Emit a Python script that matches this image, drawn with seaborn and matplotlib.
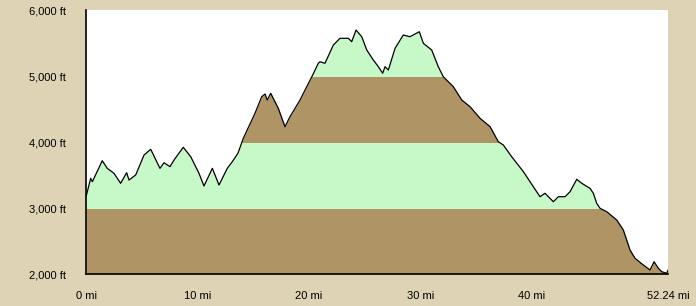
import numpy as np
import pandas as pd
import matplotlib
matplotlib.use("Agg")
import matplotlib.pyplot as plt
from matplotlib.patches import Rectangle
import seaborn as sns

miles = [0.00, 0.42, 0.57, 1.46, 1.91, 2.51, 3.11, 3.65, 3.86, 4.46, 5.21, 5.81,
         6.64, 7.00, 7.54, 7.90, 8.73, 9.40, 10.14, 10.59, 11.34, 11.94, 12.68,
         13.13, 13.64, 14.12, 15.17, 15.77, 16.07, 16.27, 16.58, 17.26, 17.86,
         18.31, 19.21, 20.35, 20.85, 21.00, 21.45, 22.20, 22.80, 23.55, 23.85,
         24.24, 24.75, 25.20, 25.79, 26.24, 26.63, 26.84, 27.14, 27.74, 28.48,
         29.08, 29.92, 30.28, 31.03, 31.62, 32.07, 32.97, 33.73, 34.47, 35.37,
         36.27, 37.01, 37.46, 38.21, 39.26, 40.15, 40.75, 41.20, 41.95, 42.40,
         43.00, 43.45, 44.05, 44.50, 45.24, 45.54, 45.84, 46.14, 46.74, 47.64,
         48.23, 48.83, 49.28, 50.03, 50.63, 50.99, 51.38, 51.68, 52.13, 52.24]
elev_ft = [3167, 3450, 3398, 3716, 3601, 3526, 3374, 3535, 3424, 3500, 3803, 3889,
           3601, 3686, 3626, 3727, 3920, 3777, 3526, 3333, 3601, 3348, 3601,
           3701, 3829, 4056, 4435, 4686, 4727, 4636, 4738, 4510, 4232,
           4383, 4636, 5015, 5192, 5216, 5192, 5469, 5571, 5571, 5520,
           5697, 5595, 5394, 5242, 5141, 5041, 5141, 5091, 5419, 5621,
           5595, 5671, 5495, 5394, 5141, 4989, 4838, 4636, 4535, 4359,
           4232, 4004, 3954, 3777, 3550, 3323, 3171, 3223, 3095, 3171,
           3171, 3247, 3435, 3374, 3298, 3223, 3071, 2995, 2944, 2818,
           2667, 2364, 2238, 2136, 2061, 2186, 2086, 2035, 2011, 2061]

y_ticks = [2000, 3000, 4000, 5000, 6000]
y_labels = ["2,000 ft", "3,000 ft", "4,000 ft", "5,000 ft", "6,000 ft"]
x_ticks = [0, 10, 20, 30, 40, 52.24]
x_labels = ["0 mi", "10 mi", "20 mi", "30 mi", "40 mi", "52.24 mi"]
band_colors = ["#AF9466", "#C7F8C7", "#AF9466", "#C7F8C7"]

df = pd.DataFrame({"miles": miles, "elev": elev_ft})

sns.set_style("white")
plt.rcParams["font.family"] = ["Liberation Sans", "DejaVu Sans"]

BG = "#DED3B5"
fig = plt.figure(figsize=(6.96, 3.06), dpi=100, facecolor=BG)
ax = fig.add_axes([86 / 696, 32 / 306, 582 / 696, 264 / 306])
ax.set_facecolor("white")

for lo, hi, col in zip(y_ticks[:-1], y_ticks[1:], band_colors):
    poly = ax.fill_between(df["miles"], y_ticks[0], df["elev"], color=col, lw=0, zorder=1)
    clip = Rectangle((0, lo), 60, hi - lo, transform=ax.transData)
    poly.set_clip_path(clip)

sns.lineplot(data=df, x="miles", y="elev", color="black", lw=0.9, ax=ax, zorder=3)

ax.set_xlim(0, 52.24)
ax.set_ylim(2000, 6000)
ax.set_xticks(x_ticks)
ax.set_xticklabels(x_labels)
ax.set_yticks(y_ticks)
ax.set_yticklabels(y_labels)
ax.set_xlabel("")
ax.set_ylabel("")
ax.tick_params(axis="both", direction="out", length=6.5, width=1, color="black",
               labelsize=8, labelcolor="black")
ax.tick_params(axis="y", pad=8)
ax.tick_params(axis="x", pad=6)
for s in ["top", "right"]:
    ax.spines[s].set_visible(False)
for s in ["left", "bottom"]:
    ax.spines[s].set_color("black")
    ax.spines[s].set_linewidth(1.2)
    ax.spines[s].set_zorder(5)
ax.grid(False)

fig.savefig("out.png", dpi=100, facecolor=BG)
